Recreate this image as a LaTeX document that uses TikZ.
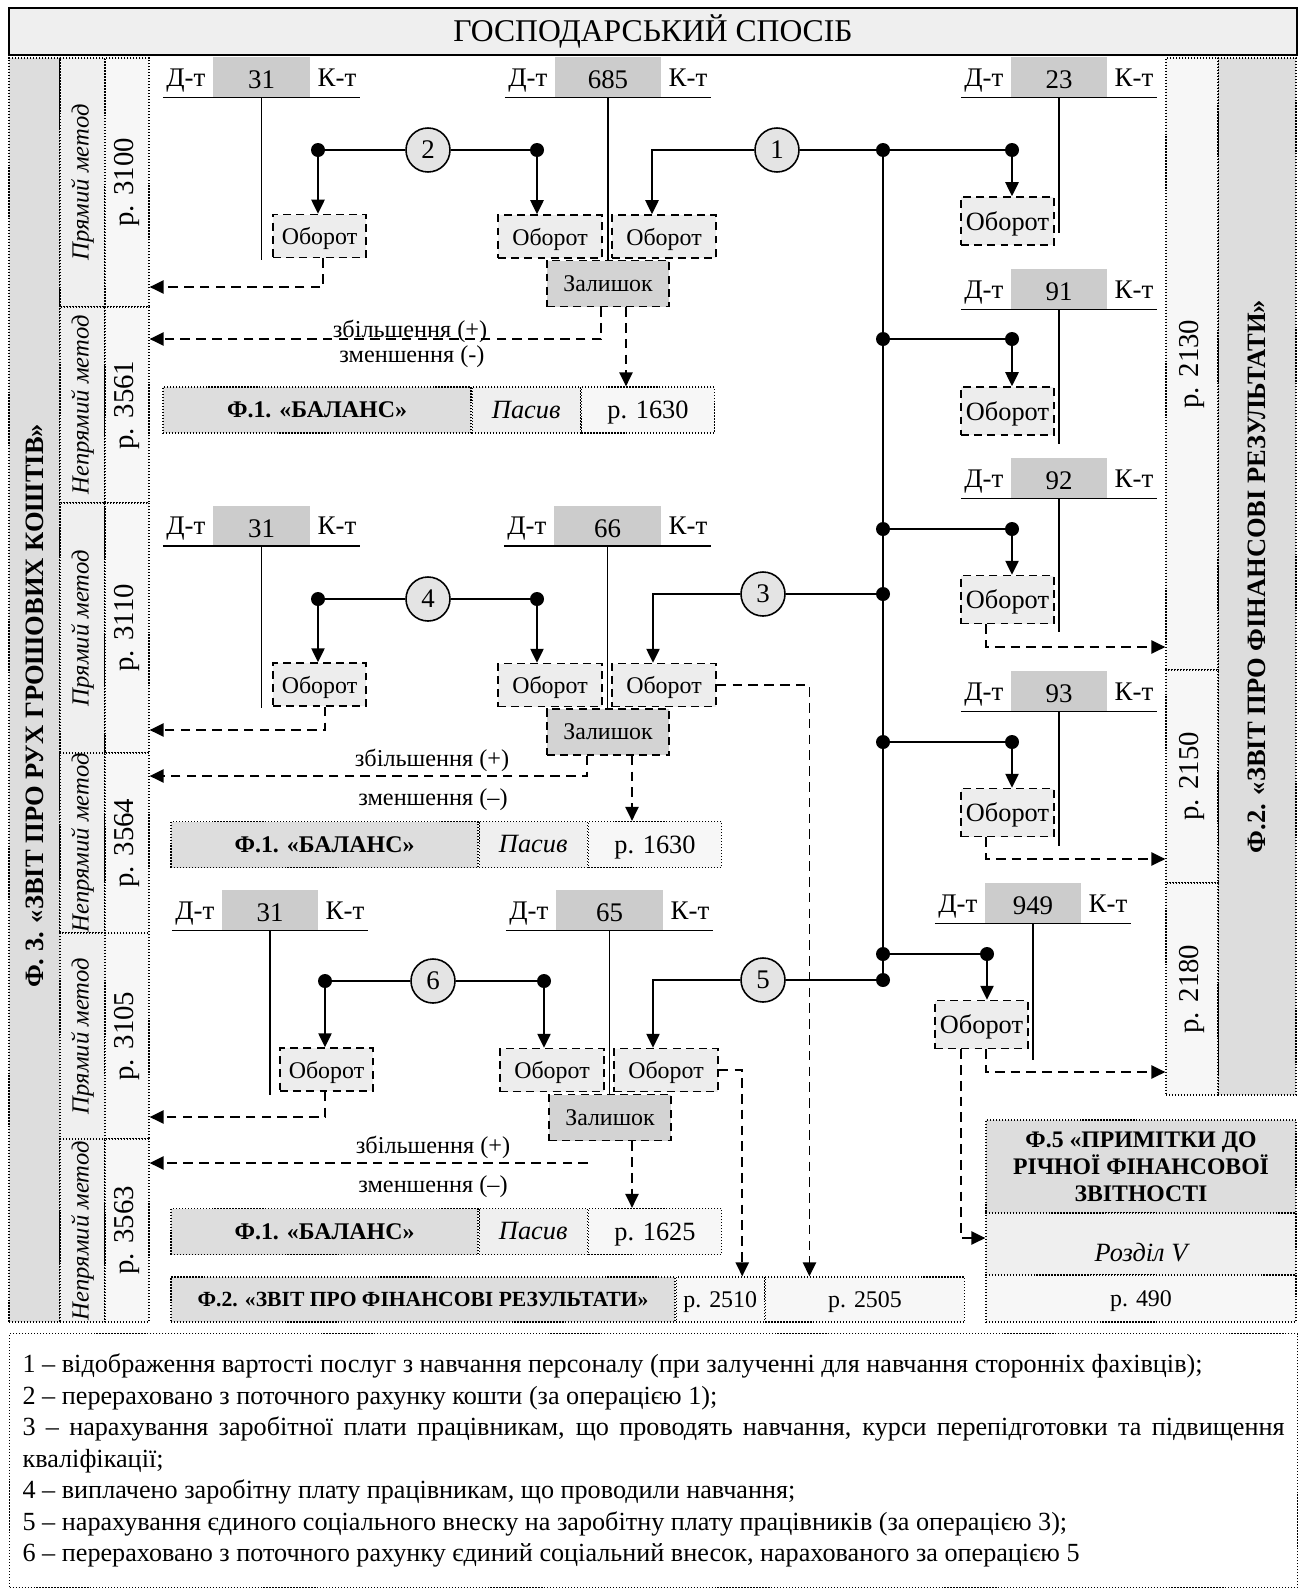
\documentclass[tikz,border=0pt]{standalone}
\usepackage{fontspec}
\setmainfont{Liberation Serif}
\usepackage{graphicx}
\usetikzlibrary{arrows.meta,positioning}
\setlength{\parindent}{0pt}

\newdimen\pxu
\pxu=0.02cm

\definecolor{titlegray}{HTML}{EFEFEF}
\definecolor{formgray}{HTML}{DDDDDD}
\definecolor{methgray}{HTML}{EFEFEF}
\definecolor{rowgray}{HTML}{F7F7F7}
\definecolor{accgray}{HTML}{CCCCCC}
\definecolor{obrgray}{HTML}{EDEDED}
\definecolor{zalgray}{HTML}{D3D3D3}
\definecolor{circgray}{HTML}{E4E4E4}

\newcommand{\titlefont}{\fontsize{18}{20}\selectfont}
\newcommand{\formfont}{\fontsize{15.1}{16}\selectfont\bfseries}
\newcommand{\methfont}{\fontsize{14}{16}\selectfont\itshape}
\newcommand{\rowfont}{\fontsize{16.4}{18}\selectfont}
\newcommand{\accfont}{\fontsize{15.3}{17}\selectfont}
\newcommand{\obrfont}{\fontsize{13.6}{15}\selectfont}
\newcommand{\obrbigfont}{\fontsize{15}{17}\selectfont}
\newcommand{\notefont}{\fontsize{13.8}{15}\selectfont}
\newcommand{\cellbf}{\fontsize{13.6}{15}\selectfont\bfseries}
\newcommand{\cellit}{\fontsize{15}{17}\selectfont\itshape}
\newcommand{\cellrm}{\fontsize{15}{17}\selectfont}
\newcommand{\cellsm}{\fontsize{13.6}{15}\selectfont}
\newcommand{\barfont}{\fontsize{12.3}{13}\selectfont\bfseries}
\newcommand{\fivefont}{\fontsize{13.5}{15.3}\selectfont\bfseries}
\newcommand{\legfont}{\fontsize{14.9}{17.9}\selectfont}

% T-account: name, centre x, centre y of head, number, head width, stem length
\newcommand{\taccount}[6]{%
  \node[acchead,minimum width=#5\pxu] (#1) at (#2,#3) {#4};
  \node[acclbl,anchor=base east] (#1d) at ([xshift=-4\pxu,yshift=1.5pt]#1.base west) {Д-т};
  \node[acclbl,anchor=base west] (#1k) at ([xshift=4\pxu,yshift=1.5pt]#1.base east) {К-т};
  \draw[accline] (#1.south -| #1d.west) -- (#1.south -| #1k.east);
  \draw[accline] (#1.south) -- ++(0,#6);
}

\begin{document}
\begin{tikzpicture}[x=0.02cm,y=-0.02cm,
    conn/.style={line width=1.1pt},
    arr/.style={conn,-{Triangle[length=8pt,width=7.5pt]}},
    dsh/.style={line width=1.1pt,dash pattern=on 5.5pt off 3.5pt},
    darr/.style={dsh,-{Triangle[length=8pt,width=7.5pt]}},
    dot/.style={circle,fill=black,inner sep=0pt,minimum size=14\pxu},
    opcirc/.style={circle,draw,line width=0.9pt,fill=circgray,inner sep=0pt,minimum size=44\pxu,font=\accfont},
    obr/.style={draw,dash pattern=on 4.5pt off 3pt,line width=0.8pt,fill=obrgray,inner sep=0pt,minimum height=43\pxu,text depth=0pt,font=\obrfont},
    obrb/.style={obr,minimum width=93\pxu,minimum height=48\pxu,font=\obrbigfont},
    zal/.style={obr,fill=zalgray,minimum width=122\pxu,minimum height=46\pxu},
    acchead/.style={fill=accgray,inner sep=0pt,minimum height=40\pxu,text height=13.6pt,text depth=0pt,font=\accfont},
    acclbl/.style={inner ysep=0pt,inner xsep=3\pxu,font=\accfont},
    accline/.style={line width=0.75pt},
    cell/.style={draw,densely dotted,line width=0.7pt,inner sep=0pt},
    methcell/.style={cell,fill=methgray,minimum width=45\pxu,font=\methfont},
    rowcell/.style={cell,fill=rowgray,minimum width=44\pxu,font=\rowfont},
    fcell/.style={cell,fill=formgray,minimum height=46\pxu,font=\cellbf},
    pcell/.style={cell,fill=methgray,minimum width=108\pxu,minimum height=46\pxu,font=\cellit},
    rcell/.style={cell,fill=rowgray,minimum width=133\pxu,minimum height=46\pxu,text depth=0pt,font=\cellrm},
    note/.style={inner sep=0pt,anchor=base,font=\notefont}]
\useasboundingbox (0,0) rectangle (1302,1589);

% heading
\node[draw,line width=1pt,fill=titlegray,minimum width=1288\pxu,minimum height=47\pxu,inner sep=0pt,font=\titlefont] (title) at (653,31.5) {ГОСПОДАРСЬКИЙ СПОСІБ};

% form 3 column
\node[cell,fill=formgray,minimum width=51\pxu,minimum height=1264\pxu,font=\formfont] (f3) at (34.5,690) {\rotatebox{90}{Ф. 3. «ЗВІТ ПРО РУХ ГРОШОВИХ КОШТІВ»\hspace{32\pxu}}};
\node[methcell,minimum height=249\pxu] (m1) at (82.5,182.5) {\rotatebox{90}{Прямий метод}};
\node[methcell,minimum height=196\pxu] (m2) at (82.5,405) {\rotatebox{90}{Непрямий метод}};
\node[methcell,minimum height=250\pxu] (m3) at (82.5,628) {\rotatebox{90}{Прямий метод}};
\node[methcell,minimum height=180\pxu] (m4) at (82.5,843) {\rotatebox{90}{Непрямий метод}};
\node[methcell,minimum height=206\pxu] (m5) at (82.5,1036) {\rotatebox{90}{Прямий метод}};
\node[methcell,minimum height=183\pxu] (m6) at (82.5,1230.5) {\rotatebox{90}{Непрямий метод}};
\node[rowcell,minimum height=249\pxu] (r3100) at (127,182.5) {\rotatebox{90}{р. 3100}};
\node[rowcell,minimum height=196\pxu] (r3561) at (127,405) {\rotatebox{90}{р. 3561}};
\node[rowcell,minimum height=250\pxu] (r3110) at (127,628) {\rotatebox{90}{р. 3110}};
\node[rowcell,minimum height=180\pxu] (r3564) at (127,843) {\rotatebox{90}{р. 3564}};
\node[rowcell,minimum height=206\pxu] (r3105) at (127,1036) {\rotatebox{90}{р. 3105}};
\node[rowcell,minimum height=183\pxu] (r3563) at (127,1230.5) {\rotatebox{90}{р. 3563}};

% form 2 column
\node[cell,fill=formgray,minimum width=78\pxu,minimum height=1037\pxu,font=\formfont] (f2) at (1257,576.5) {\rotatebox{90}{Ф.2. «ЗВІТ ПРО ФІНАНСОВІ РЕЗУЛЬТАТИ»}};
\node[rowcell,minimum width=52\pxu,minimum height=612\pxu] (p2130) at (1192,364) {\rotatebox{90}{р. 2130}};
\node[rowcell,minimum width=52\pxu,minimum height=213\pxu] (p2150) at (1192,776.5) {\rotatebox{90}{р. 2150}};
\node[rowcell,minimum width=52\pxu,minimum height=212\pxu] (p2180) at (1192,989) {\rotatebox{90}{р. 2180}};

% form 5
\node[cell,fill=formgray,minimum width=310\pxu,minimum height=93\pxu,align=center,font=\fivefont] (f5) at (1141,1166.5) {Ф.5 «ПРИМІТКИ ДО\\РІЧНОЇ ФІНАНСОВОЇ\\ЗВІТНОСТІ};
\node[cell,fill=methgray,minimum width=310\pxu,minimum height=62\pxu,text height=20pt,text depth=0pt,font=\cellit] (f5sec) at (1141,1244) {Розділ V};
\node[cell,fill=rowgray,minimum width=310\pxu,minimum height=47\pxu,text depth=0pt,font=\cellsm] (f5row) at (1141,1298.5) {р. 490};

% balance rows
\node[fcell,minimum width=308\pxu] (b1f) at (317,410) {Ф.1. «БАЛАНС»};
\node[pcell,right=0pt of b1f] (b1p) {Пасив};
\node[rcell,right=0pt of b1p] (b1r) {р. 1630};
\node[fcell,minimum width=307\pxu] (b2f) at (324.5,844.5) {Ф.1. «БАЛАНС»};
\node[pcell,right=0pt of b2f] (b2p) {Пасив};
\node[rcell,right=0pt of b2p] (b2r) {р. 1630};
\node[fcell,minimum width=307\pxu] (b3f) at (324.5,1231.5) {Ф.1. «БАЛАНС»};
\node[pcell,right=0pt of b3f] (b3p) {Пасив};
\node[rcell,right=0pt of b3p] (b3r) {р. 1625};
\node[fcell,minimum width=504\pxu,minimum height=45\pxu,font=\barfont] (f2bar) at (423,1299.5) {Ф.2. «ЗВІТ ПРО ФІНАНСОВІ РЕЗУЛЬТАТИ»};
\node[cell,fill=rowgray,minimum width=88\pxu,minimum height=45\pxu,text depth=0pt,font=\cellsm,right=0pt of f2bar] (f2a) {р. 2510};
\node[cell,fill=rowgray,minimum width=199\pxu,minimum height=45\pxu,text depth=0pt,font=\cellsm,right=0pt of f2a] (f2b) {р. 2505};

% accounts
\taccount{a31t}{261.5}{77}{31}{97}{163}
\taccount{a685}{608}{77}{685}{106}{163}
\taccount{a23}{1059}{77}{23}{96}{136}
\taccount{a91}{1059}{289}{91}{96}{135}
\taccount{a92}{1059}{478}{92}{96}{134}
\taccount{a93}{1059}{691}{93}{96}{135}
\taccount{a31m}{261.5}{525.5}{31}{97}{162}
\taccount{a66}{607.5}{525.5}{66}{107}{162}
\taccount{a31b}{270}{910}{31}{96}{165}
\taccount{a65}{609.5}{910}{65}{107}{165}
\taccount{a949}{1033}{903}{949}{96}{137}

% turnover and balance boxes
\node[obr,minimum width=93\pxu] (o31t) at (319.5,236) {Оборот};
\node[obr,minimum width=104\pxu] (o685d) at (550,236.5) {Оборот};
\node[obr,minimum width=104\pxu] (o685k) at (664,236.5) {Оборот};
\node[obrb] (o23) at (1007.5,221) {Оборот};
\node[obrb] (o91) at (1007.5,411) {Оборот};
\node[obrb] (o92) at (1007.5,599.5) {Оборот};
\node[obrb] (o93) at (1007.5,812.5) {Оборот};
\node[obr,minimum width=93\pxu] (o31m) at (319.5,684.5) {Оборот};
\node[obr,minimum width=104\pxu] (o66d) at (550,685) {Оборот};
\node[obr,minimum width=104\pxu] (o66k) at (664,685) {Оборот};
\node[obr,minimum width=93\pxu] (o31b) at (326.5,1069.5) {Оборот};
\node[obr,minimum width=104\pxu] (o65d) at (552,1070) {Оборот};
\node[obr,minimum width=104\pxu] (o65k) at (666,1070) {Оборот};
\node[obrb] (o949) at (981.5,1024.5) {Оборот};
\node[zal] (z685) at (608,283.5) {Залишок};
\node[zal] (z66) at (608,732) {Залишок};
\node[zal] (z65) at (610,1117.5) {Залишок};

% operations
\node[opcirc] (c1) at (777,150) {1};
\node[opcirc] (c2) at (428,150) {2};
\node[opcirc] (c3) at (763,594) {3};
\node[opcirc] (c4) at (428,599) {4};
\node[opcirc] (c5) at (763,980) {5};
\node[opcirc] (c6) at (433,981) {6};

\node[dot] (d2l) at (318,150) {};
\node[dot] (d2r) at (537,150) {};
\node[dot] (d4l) at (318,599) {};
\node[dot] (d4r) at (537,599) {};
\node[dot] (d6l) at (325,981) {};
\node[dot] (d6r) at (544,981) {};
\node[dot] (t1) at (883,150) {};
\node[dot] (t2) at (883,339) {};
\node[dot] (t3) at (883,529) {};
\node[dot] (t4) at (883,594) {};
\node[dot] (t5) at (883,742) {};
\node[dot] (t6) at (883,954) {};
\node[dot] (t7) at (883,980) {};
\node[dot] (d23) at (1012,150) {};
\node[dot] (d91) at (1012,339) {};
\node[dot] (d92) at (1012,529) {};
\node[dot] (d93) at (1012,742) {};
\node[dot] (d949) at (987,954) {};

\draw[conn] (t1) -- (t7);
\draw[conn] (t1) -- (c1);
\draw[arr] (c1) -| ([xshift=-12\pxu]o685k.north);
\draw[conn] (d2l) -- (c2) -- (d2r);
\draw[arr] (d2l) -- (d2l |- o31t.north);
\draw[arr] (d2r) -- (d2r |- o685d.north);
\draw[conn] (t4) -- (c3);
\draw[arr] (c3) -| ([xshift=-11\pxu]o66k.north);
\draw[conn] (d4l) -- (c4) -- (d4r);
\draw[arr] (d4l) -- (d4l |- o31m.north);
\draw[arr] (d4r) -- (d4r |- o66d.north);
\draw[conn] (t7) -- (c5);
\draw[arr] (c5) -| ([xshift=-13\pxu]o65k.north);
\draw[conn] (d6l) -- (c6) -- (d6r);
\draw[arr] (d6l) -- (d6l |- o31b.north);
\draw[arr] (d6r) -- (d6r |- o65d.north);
\draw[conn] (t1) -- (d23);
\draw[arr] (d23) -- (d23 |- o23.north);
\draw[conn] (t2) -- (d91);
\draw[arr] (d91) -- (d91 |- o91.north);
\draw[conn] (t3) -- (d92);
\draw[arr] (d92) -- (d92 |- o92.north);
\draw[conn] (t5) -- (d93);
\draw[arr] (d93) -- (d93 |- o93.north);
\draw[conn] (t6) -- (d949);
\draw[arr] (d949) -- (d949 |- o949.north);

% reporting lines
\draw[darr] ([xshift=3.5\pxu]o31t.south) |- (r3100.east |- 0,287);
\draw[darr] ([xshift=-7\pxu]z685.south) |- (r3561.east |- 0,339);
\draw[darr] ([xshift=18\pxu]z685.south) -- ([xshift=18\pxu]z685.south |- b1r.north);
\draw[darr] ([xshift=5.5\pxu]o31m.south) |- (r3110.east |- 0,730);
\draw[darr] ([xshift=-21\pxu]z66.south) |- (r3564.east |- 0,776);
\draw[darr] ([xshift=24\pxu]z66.south) -- ([xshift=24\pxu]z66.south |- b2r.north);
\draw[darr] (o66k.east) -| ([xshift=-55.5\pxu]f2b.north);
\draw[darr] ([xshift=-1.5\pxu]o31b.south) |- (r3105.east |- 0,1117);
\coordinate (z65end) at (588,1163);
\draw[darr] (z65end) -- (r3563.east |- z65end);
\draw[darr] ([xshift=22\pxu]z65.south) -- ([xshift=22\pxu]z65.south |- b3r.north);
\draw[darr] (o65k.east) -| ([xshift=22\pxu]f2a.north);
\draw[darr] ([xshift=-21.5\pxu]o92.south) |- (p2130.west |- 0,647);
\draw[darr] ([xshift=-21.5\pxu]o93.south) |- (p2150.west |- 0,859);
\draw[darr] ([xshift=4.5\pxu]o949.south) |- (p2180.west |- 0,1072);
\draw[darr] ([xshift=-20.5\pxu]o949.south) |- (f5sec.west |- 0,1238);

\node[note] (inc1) at (410,337) {збільшення (+)};
\node[note] (dec1) at (412,362) {зменшення (-)};
\node[note] (inc2) at (432,766) {збільшення (+)};
\node[note] (dec2) at (433,805) {зменшення (–)};
\node[note] (inc3) at (433,1153) {збільшення (+)};
\node[note] (dec3) at (433,1192) {зменшення (–)};

% legend
\node[cell,anchor=north west,minimum height=254\pxu,text width=1262\pxu,inner xsep=13\pxu,align=justify,font=\legfont] (legend) at (9,1333) {1 – відображення вартості послуг з навчання персоналу (при залученні для навчання сторонніх фахівців);\par
2 – перераховано з поточного рахунку кошти (за операцією 1);\par
3 – нарахування заробітної плати працівникам, що проводять навчання, курси перепідготовки та підвищення кваліфікації;\par
4 – виплачено заробітну плату працівникам, що проводили навчання;\par
5 – нарахування єдиного соціального внеску на заробітну плату працівників (за операцією 3);\par
6 – перераховано з поточного рахунку єдиний соціальний внесок, нарахованого за операцією 5};
\end{tikzpicture}
\end{document}
